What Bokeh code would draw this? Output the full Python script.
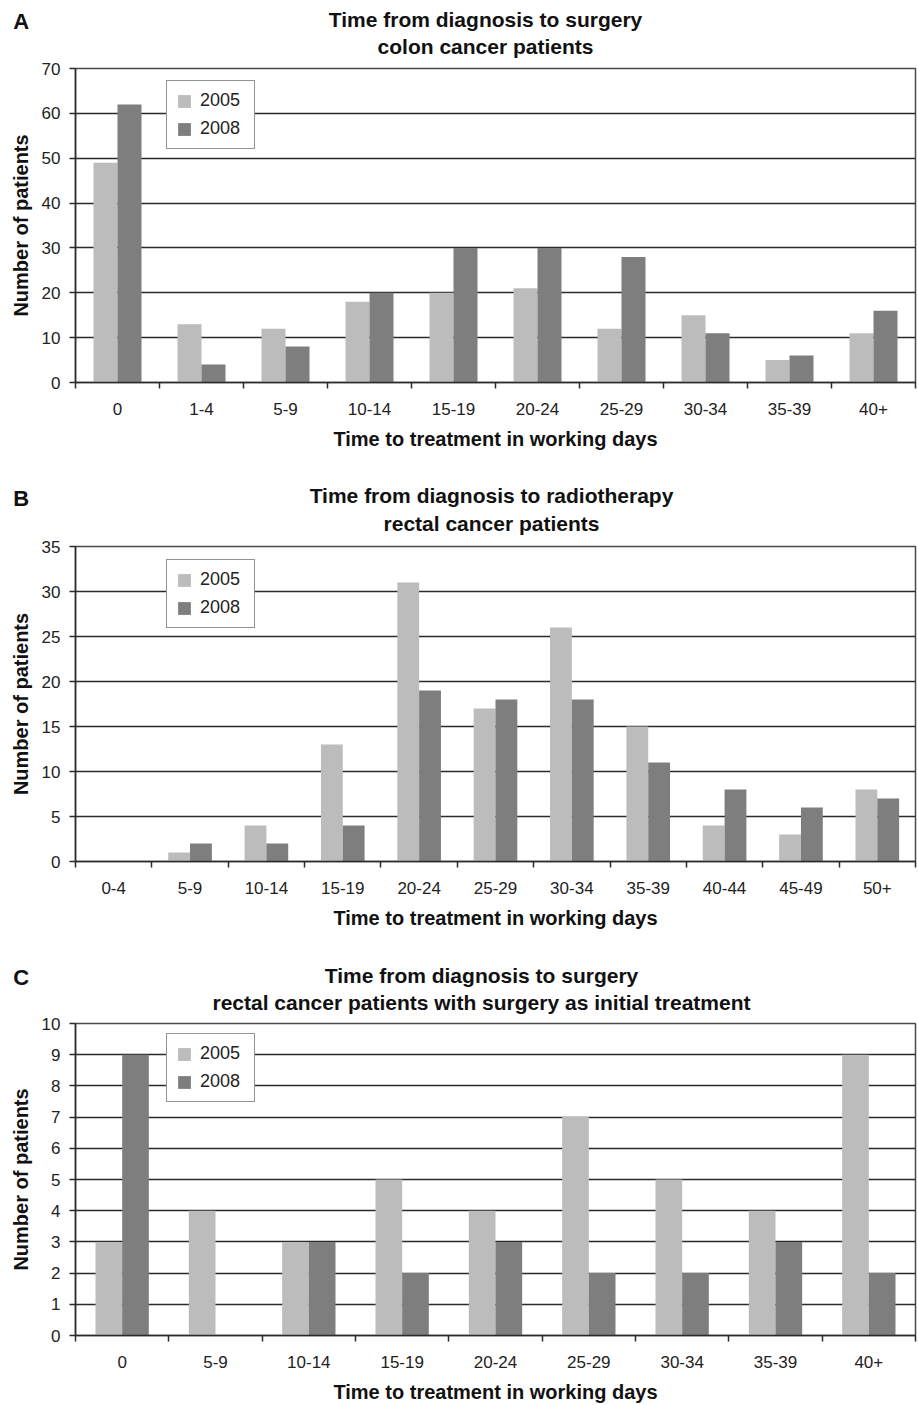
import numpy as np
from bokeh.plotting import figure
from bokeh.models import Range1d, FixedTicker, Label
from bokeh.layouts import column
from bokeh.embed import file_html
from bokeh.resources import INLINE

# ---------------- data ----------------
A_cats = ["0", "1-4", "5-9", "10-14", "15-19", "20-24", "25-29", "30-34", "35-39", "40+"]
A_2005 = [49, 13, 12, 18, 20, 21, 12, 15, 5, 11]
A_2008 = [62, 4, 8, 20, 30, 30, 28, 11, 6, 16]

B_cats = ["0-4", "5-9", "10-14", "15-19", "20-24", "25-29", "30-34", "35-39", "40-44", "45-49", "50+"]
B_2005 = [0, 1, 4, 13, 31, 17, 26, 15, 4, 3, 8]
B_2008 = [0, 2, 2, 4, 19, 18, 18, 11, 8, 6, 7]

C_cats = ["0", "5-9", "10-14", "15-19", "20-24", "25-29", "30-34", "35-39", "40+"]
C_2005 = [3, 4, 3, 5, 4, 7, 5, 4, 9]
C_2008 = [9, 0, 3, 2, 3, 2, 2, 3, 2]

series_names = ["2005", "2008"]
x_title = "Time to treatment in working days"
y_title = "Number of patients"

# ---------------- style ----------------
FONT = "Liberation Sans"
C05 = "#bcbcbc"
C08 = "#7e7e7e"
DARK = "#2a2a2a"
W = 918
LEFT, RIGHT = 75, 3
BASE_FIX = 8  # rendered alphabetic baseline sits this many px lower than requested


def title_block(letter, t1, t2, height, tcx, letter_base, t1_base, t2_base):
    """Header strip holding the panel letter and the two title lines.
    Baselines are given in pixels from the top of the strip."""
    t = figure(width=W, height=height, x_range=Range1d(0, W), y_range=Range1d(0, height),
               output_backend="svg", toolbar_location=None,
               x_axis_location=None, y_axis_location=None, min_border=0,
               frame_align=False)
    t.grid.visible = False
    t.outline_line_color = None
    t.background_fill_color = "white"
    t.border_fill_color = "white"

    def yy(base):
        return height - base + BASE_FIX

    t.add_layout(Label(x=12.7, y=yy(letter_base), text=letter, text_font=FONT,
                       text_font_style="bold", text_font_size="22px",
                       text_baseline="alphabetic", text_align="left", text_color="#111111"))
    t.add_layout(Label(x=tcx, y=yy(t1_base), text=t1, text_font=FONT,
                       text_font_style="bold", text_font_size="21px",
                       text_baseline="alphabetic", text_align="center", text_color="#111111"))
    t.add_layout(Label(x=tcx, y=yy(t2_base), text=t2, text_font=FONT,
                       text_font_style="bold", text_font_size="21px",
                       text_baseline="alphabetic", text_align="center", text_color="#111111"))
    return t


def panel(cats, v05, v08, ymax, ystep, height, top, bottom):
    n = len(cats)
    idx = np.arange(n)
    p = figure(width=W, height=height, x_range=Range1d(-0.5, n - 0.5),
               y_range=Range1d(0, ymax), output_backend="svg", toolbar_location=None,
               min_border_left=LEFT, min_border_right=RIGHT,
               min_border_top=top, min_border_bottom=bottom, frame_align=False)
    p.background_fill_color = "white"
    p.border_fill_color = "white"
    p.outline_line_color = "#4a4a4a"
    p.outline_line_width = 1.5

    w = 1 / 3.5
    p.vbar(x=idx - w / 2, top=v05, width=w, fill_color=C05, line_color=None,
           legend_label=series_names[0])
    p.vbar(x=idx + w / 2, top=v08, width=w, fill_color=C08, line_color=None,
           legend_label=series_names[1])

    # x axis: labels at category centres, tick marks at category boundaries
    xa = p.xaxis[0]
    xa.ticker = FixedTicker(ticks=[int(i) for i in idx],
                            minor_ticks=[float(i) - 0.5 for i in range(n + 1)])
    xa.major_label_overrides = {int(i): c for i, c in enumerate(cats)}
    xa.major_tick_out = 0
    xa.major_tick_in = 0
    xa.minor_tick_out = 6
    xa.minor_tick_in = 0
    xa.minor_tick_line_color = DARK
    xa.minor_tick_line_width = 1.5
    xa.axis_line_color = DARK
    xa.axis_line_width = 1.5
    xa.major_label_text_font = FONT
    xa.major_label_text_font_size = "17px"
    xa.major_label_text_color = "#222222"
    xa.major_label_standoff = 14
    xa.axis_label = x_title
    xa.axis_label_text_font = FONT
    xa.axis_label_text_font_style = "bold"
    xa.axis_label_text_font_size = "20px"
    xa.axis_label_text_color = "#111111"
    xa.axis_label_standoff = 10

    # y axis
    ya = p.yaxis[0]
    ya.ticker = FixedTicker(ticks=list(range(0, ymax + 1, ystep)), minor_ticks=[])
    ya.major_tick_out = 6
    ya.major_tick_in = 0
    ya.major_tick_line_color = DARK
    ya.major_tick_line_width = 1.5
    ya.axis_line_color = DARK
    ya.axis_line_width = 1.5
    ya.major_label_text_font = FONT
    ya.major_label_text_font_size = "17px"
    ya.major_label_text_color = "#222222"
    ya.major_label_standoff = 9
    ya.axis_label = y_title
    ya.axis_label_text_font = FONT
    ya.axis_label_text_font_style = "bold"
    ya.axis_label_text_font_size = "20px"
    ya.axis_label_text_color = "#111111"
    ya.axis_label_standoff = 7

    p.xgrid.visible = False
    p.ygrid.ticker = FixedTicker(ticks=list(range(0, ymax + 1, ystep)))
    p.ygrid.grid_line_color = DARK
    p.ygrid.grid_line_width = 1.5

    # legend
    lg = p.legend[0]
    lg.location = (91, 233)
    lg.border_line_color = DARK
    lg.border_line_width = 1.5
    lg.background_fill_color = "white"
    lg.background_fill_alpha = 1.0
    lg.label_text_font = FONT
    lg.label_text_font_size = "18px"
    lg.label_text_color = "#222222"
    lg.glyph_width = 16
    lg.glyph_height = 16
    lg.label_height = 20
    lg.label_width = 45
    lg.label_standoff = 8
    lg.padding = 9
    lg.spacing = 7
    lg.margin = 0
    return p


tA = title_block("A", "Time from diagnosis to surgery", "colon cancer patients",
                 61, 485, 29.3, 26.7, 54.3)
pA = panel(A_cats, A_2005, A_2008, 70, 10, 404, 7, 83)

tB = title_block("B", "Time from diagnosis to radiotherapy", "rectal cancer patients",
                 74, 491, 40.7, 38.3, 65.7)
pB = panel(B_cats, B_2005, B_2008, 35, 5, 403, 7, 81)

tC = title_block("C", "Time from diagnosis to surgery",
                 "rectal cancer patients with surgery as initial treatment",
                 74, 481, 43, 41.3, 68)
pC = panel(C_cats, C_2005, C_2008, 10, 1, 389, 7, 68)

layout = column(tA, pA, tB, pB, tC, pC, spacing=0)
open("out.html", "w").write(file_html(layout, INLINE))
